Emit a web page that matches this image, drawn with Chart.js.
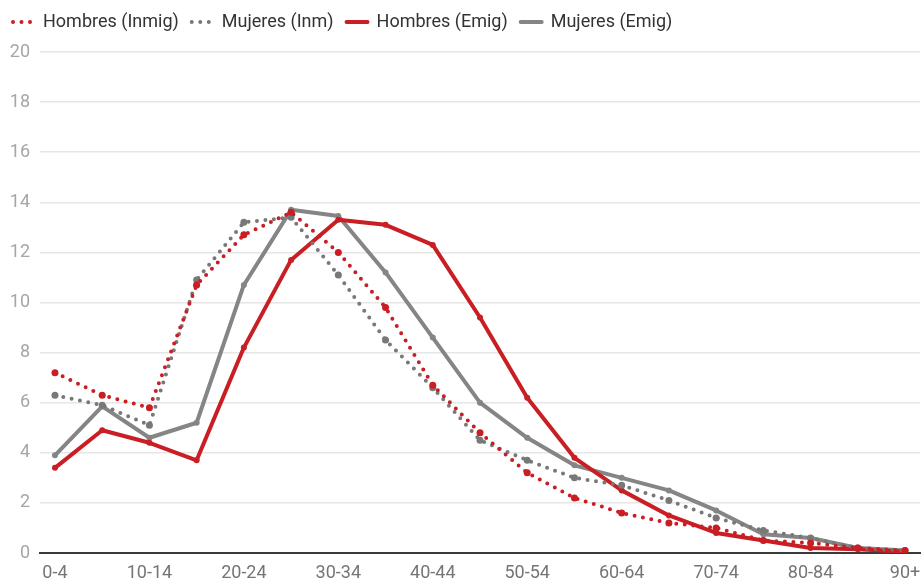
<!DOCTYPE html>
<html>
<head>
<meta charset="utf-8">
<script src="https://cdn.jsdelivr.net/npm/chart.js@4"></script>
<style>
  html, body { margin: 0; padding: 0; background: #fff; }
  #wrap { width: 924px; height: 580px; position: relative; }
</style>
</head>
<body>
<div id="wrap"><canvas id="chart"></canvas></div>
<script>
// Age groups (x axis)
const ageGroups = ['0-4', '5-9', '10-14', '15-19', '20-24', '25-29', '30-34', '35-39', '40-44',
  '45-49', '50-54', '55-59', '60-64', '65-69', '70-74', '75-79', '80-84', '85-89', '90+'];

// % per age group
const hombresInmig = [7.2, 6.3, 5.8, 10.7, 12.7, 13.6, 12.0, 9.8, 6.7, 4.8, 3.2, 2.2, 1.6, 1.2, 1.0, 0.5, 0.4, 0.2, 0.1];
const mujeresInm   = [6.3, 5.9, 5.1, 10.9, 13.2, 13.4, 11.1, 8.5, 6.6, 4.5, 3.7, 3.0, 2.7, 2.1, 1.4, 0.9, 0.6, 0.2, 0.1];
const hombresEmig  = [3.4, 4.9, 4.4, 3.7, 8.2, 11.7, 13.3, 13.1, 12.3, 9.4, 6.2, 3.8, 2.5, 1.5, 0.8, 0.5, 0.2, 0.15, 0.05];
const mujeresEmig  = [3.9, 5.85, 4.6, 5.2, 10.7, 13.7, 13.45, 11.2, 8.6, 6.0, 4.6, 3.5, 3.0, 2.5, 1.7, 0.75, 0.6, 0.2, 0.1];

const yTicks = [0, 2, 4, 6, 8, 10, 12, 14, 16, 18, 20];

const RED = '#c81e24';
const GREY = '#858585';
const GREY_DOT = '#787878';

const toPoints = (arr) => arr.map((v, i) => ({ x: i, y: v }));

function line(label, arr, color, dotted) {
  return {
    label: label,
    data: toPoints(arr),
    borderColor: color,
    backgroundColor: color,
    borderWidth: 4,
    borderDash: dotted ? [0, 8.5] : [],
    borderCapStyle: 'round',
    borderJoinStyle: 'round',
    pointRadius: dotted ? 3.5 : 3,
    pointBorderWidth: 0,
    pointBackgroundColor: color,
    tension: 0,
    fill: false,
  };
}

// force legend block height so the plot starts where the reference does
const legendHeight = {
  id: 'legendHeight',
  beforeInit(chart) {
    const fit = chart.legend.fit;
    chart.legend.fit = function () {
      fit.bind(chart.legend)();
      this.height = 52;
    };
  }
};

Chart.defaults.font.family = 'Roboto, "Noto Sans", sans-serif';

new Chart(document.getElementById('chart'), {
  type: 'line',
  data: {
    datasets: [
      line('Hombres (Inmig)', hombresInmig, RED, true),
      line('Mujeres (Inm)', mujeresInm, GREY_DOT, true),
      line('Hombres (Emig)', hombresEmig, RED, false),
      line('Mujeres (Emig)', mujeresEmig, GREY, false),
    ],
  },
  options: {
    responsive: true,
    maintainAspectRatio: false,
    animation: false,
    layout: { padding: { right: 2 } },
    plugins: {
      legend: {
        position: 'top',
        align: 'start',
        labels: {
          usePointStyle: true,
          pointStyleWidth: 21,
          boxHeight: 18,
          padding: 13,
          color: '#333',
          font: { size: 18 },
          // draw the legend sample like the dataset's own line (dash included)
          generateLabels: (chart) => chart.data.datasets.map((ds, i) => ({
            text: ds.label,
            datasetIndex: i,
            hidden: !chart.isDatasetVisible(i),
            fillStyle: ds.borderColor,
            strokeStyle: ds.borderColor,
            fontColor: '#333',
            lineWidth: ds.borderWidth,
            lineDash: ds.borderDash,
            lineCap: 'round',
            pointStyle: 'line',
          })),
        },
      },
      tooltip: { enabled: false },
    },
    scales: {
      x: {
        type: 'linear',
        min: -0.317,
        max: 18.317,
        afterBuildTicks: (s) => {
          s.ticks = ageGroups.map((_, i) => i).filter((i) => i % 2 === 0).map((i) => ({ value: i }));
        },
        afterFit: (s) => {
          s.height = 27;
          // the edge labels may hang into the margin, don't shrink the plot for them
          s.paddingLeft = 0;
          s.paddingRight = 0;
        },
        ticks: {
          color: '#757575',
          font: { size: 18 },
          padding: 10,
          maxRotation: 0,
          autoSkip: false,
          callback: (v) => ageGroups[v],
        },
        grid: { display: false, drawTicks: false },
        border: { display: true, color: '#3a3a3a', width: 2 },
      },
      y: {
        min: 0,
        max: 20,
        afterBuildTicks: (s) => { s.ticks = yTicks.map((v) => ({ value: v })); },
        afterFit: (s) => { s.width = 40; },
        ticks: {
          color: '#a6a6a6',
          font: { size: 18 },
          padding: 10,
        },
        grid: { color: '#e6e6e6', lineWidth: 1.5, drawTicks: false },
        border: { display: false },
      },
    },
  },
  plugins: [legendHeight],
});
</script>
</body>
</html>
